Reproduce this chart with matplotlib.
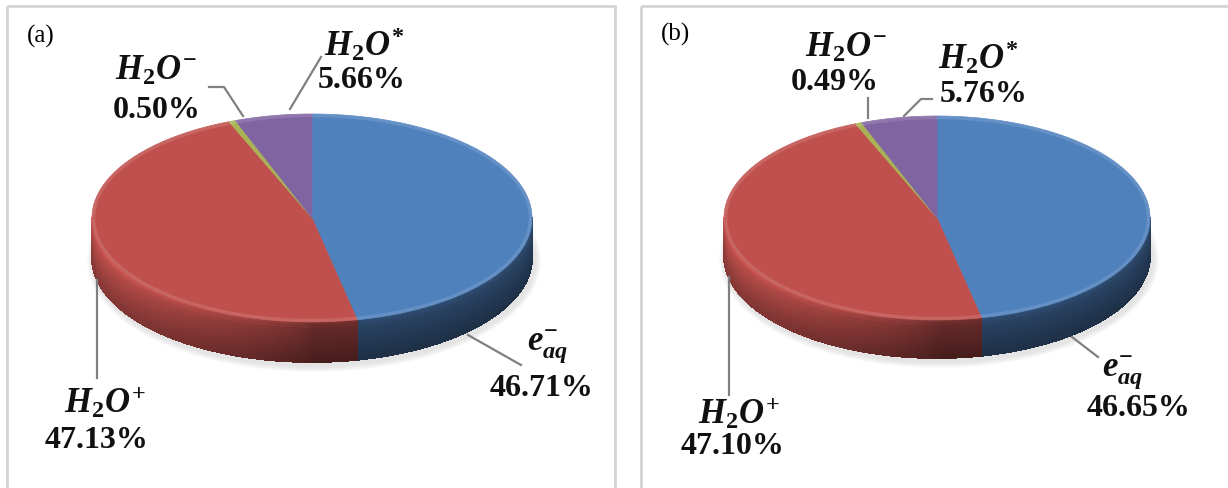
import numpy as np
import matplotlib
matplotlib.use("Agg")
import matplotlib.pyplot as plt
from matplotlib.patches import Polygon, Rectangle, Ellipse
from matplotlib.collections import PolyCollection
from matplotlib.colors import to_rgb

plt.rcParams['mathtext.fontset'] = 'custom'
plt.rcParams['mathtext.it'] = 'Liberation Serif:italic:bold'
plt.rcParams['mathtext.rm'] = 'Liberation Serif:bold'
plt.rcParams['mathtext.bf'] = 'Liberation Serif:bold'

# data (clockwise from 12 o'clock)
species = ['e_aq', 'H2O+', 'H2O-', 'H2O*']
names = [r'$e^{-}_{aq}$', r'$H_2O^{+}$', r'$H_2O^{-}$', r'$H_2O^{*}$']
values_a = [46.71, 47.13, 0.50, 5.66]
values_b = [46.65, 47.10, 0.49, 5.76]
colors = ['#4f81bd', '#c0504d', '#a9b356', '#8064a2']

W, H = 1228, 488
fig = plt.figure(figsize=(W / 100, H / 100), dpi=100)
ax = fig.add_axes([0, 0, 1, 1])
ax.set_xlim(0, W)
ax.set_ylim(H, 0)
ax.axis('off')

# panel frames
for x0, x1 in [(7, 615), (641, 1240)]:
    ax.add_patch(Rectangle((x0, 6), x1 - x0, 500, fill=False,
                           edgecolor='#d4d4d4', lw=2, zorder=0))


def rim(cx, cy, a, b, phi):
    r = np.radians(phi)
    return cx + a * np.sin(r), cy - b * np.cos(r)


def draw_pie(cx, cy, a, b, h, values):
    fr = np.array(values) / np.sum(values)
    edges = np.concatenate([[0], np.cumsum(fr)]) * 360
    # soft shadow
    for k in range(6):
        ax.add_patch(Ellipse((cx + 2, cy + h + 3), 2 * a + 14 - 2 * k,
                             2 * b + 14 - 2 * k, color='#b0b0b0',
                             alpha=0.06, lw=0, zorder=1))
    # side wall (front half)
    polys, cols = [], []
    nb = 12
    for i in range(len(values)):
        lo, hi = max(edges[i], 90), min(edges[i + 1], 270)
        if hi <= lo:
            continue
        base = np.array(to_rgb(colors[i]))
        phis = np.linspace(lo, hi, max(3, int(hi - lo) + 2))
        for j in range(len(phis) - 1):
            p0, p1 = phis[j], phis[j + 1]
            pm = np.radians((p0 + p1) / 2)
            light = 0.5 + 0.45 * np.clip(-np.sin(pm), 0, 1) ** 0.7
            x0, y0 = rim(cx, cy, a, b, p0)
            x1, y1 = rim(cx, cy, a, b, p1)
            for k in range(nb):
                v0, v1 = k / nb, (k + 1) / nb
                vm = (v0 + v1) / 2
                g = 1.12 - 0.38 * vm ** 0.9
                if vm < 0.2:
                    g += 0.12 * (1 - vm / 0.2)
                c = np.clip(base * light * g, 0, 1)
                polys.append([(x0, y0 + h * v0), (x1, y1 + h * v0),
                              (x1, y1 + h * v1), (x0, y0 + h * v1)])
                cols.append(c)
    ax.add_collection(PolyCollection(polys, facecolors=cols,
                                     edgecolors=cols, lw=0.6,
                                     antialiased=False, zorder=2))
    # top faces
    for i in range(len(values)):
        phis = np.linspace(edges[i], edges[i + 1],
                           max(2, int(edges[i + 1] - edges[i]) * 2 + 2))
        xs, ys = rim(cx, cy, a, b, phis)
        pts = [(cx, cy)] + list(zip(xs, ys))
        ax.add_patch(Polygon(pts, closed=True, facecolor=colors[i],
                             edgecolor=colors[i], lw=0.5, zorder=3))
    # faint bevel on the rim
    phis = np.linspace(0, 360, 400)
    xs, ys = rim(cx, cy, a - 1.5, b - 1.5, phis)
    ax.plot(xs, ys, color='white', alpha=0.12, lw=2.5, zorder=4)


lab = dict(fontsize=25, ha='center', va='center', color='#111111')
pct = dict(fontsize=23, ha='center', va='center', color='#111111',
           family='Liberation Serif', weight='bold')
line = dict(color='#808080', lw=1.6, zorder=5)

# ---- panel (a)
draw_pie(312, 218, 220, 104, 40, values_a)
ax.text(41, 36, '(a)', fontsize=18, family='Liberation Serif', ha='center', va='center')
ax.text(364, 44, names[3], **lab)
ax.text(362, 80, f'{values_a[3]:.2f}%', **pct)
ax.plot([290, 321], [109, 57], **line)
ax.text(156, 70, names[2], **lab)
ax.text(157, 110, f'{values_a[2]:.2f}%', **pct)
ax.plot([209, 224, 243], [87, 87, 116], **line)
ax.text(548, 346, names[0], **lab)
ax.text(542, 388, f'{values_a[0]:.2f}%', **pct)
ax.plot([468, 521], [335, 365], **line)
ax.text(105, 402, names[1], **lab)
ax.text(97, 440, f'{values_a[1]:.2f}%', **pct)
ax.plot([97, 97], [280, 378], **line)

# ---- panel (b)
draw_pie(937, 218, 213, 102, 38, values_b)
ax.text(675, 34, '(b)', fontsize=18, family='Liberation Serif', ha='center', va='center')
ax.text(978, 57, names[3], **lab)
ax.text(984, 95, f'{values_b[3]:.2f}%', **pct)
ax.plot([904, 921, 932], [116, 99, 99], **line)
ax.text(846, 47, names[2], **lab)
ax.text(835, 83, f'{values_b[2]:.2f}%', **pct)
ax.plot([868, 868], [98, 118], **line)
ax.text(1123, 372, names[0], **lab)
ax.text(1139, 408, f'{values_b[0]:.2f}%', **pct)
ax.plot([1072, 1098], [337, 357], **line)
ax.text(739, 413, names[1], **lab)
ax.text(733, 447, f'{values_b[1]:.2f}%', **pct)
ax.plot([729, 729], [277, 395], **line)

fig.savefig('out.png', dpi=100, facecolor='white')
